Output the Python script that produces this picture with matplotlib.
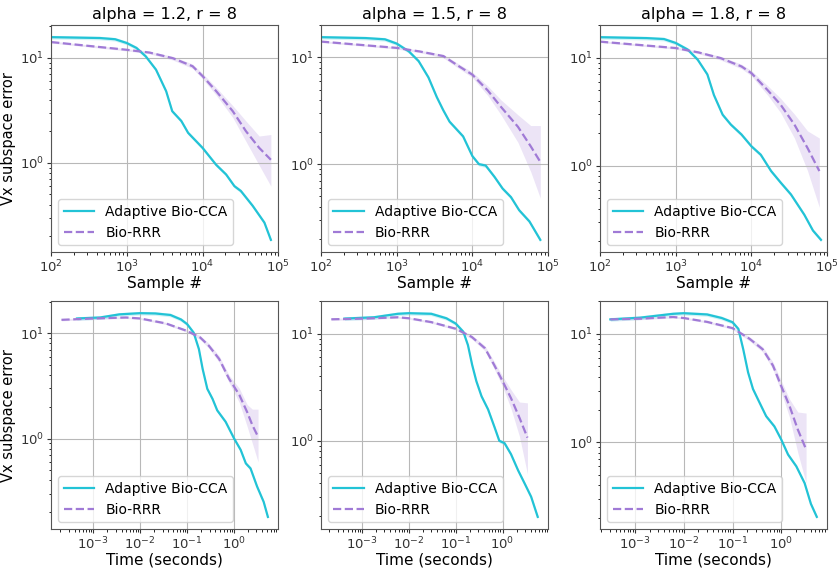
import numpy as np
import matplotlib
matplotlib.use("Agg")
import matplotlib.pyplot as plt

titles = ["alpha = 1.2, r = 8", "alpha = 1.5, r = 8", "alpha = 1.8, r = 8"]
cca_label = "Adaptive Bio-CCA"
rrr_label = "Bio-RRR"

# ---- top row: error vs sample count ----
# alpha = 1.2
s12_cca = [100, 441, 700, 1000, 1340, 1780, 2430, 3310, 3980, 5250, 6450, 10000, 15100, 20500, 26400, 32100, 46000, 65700, 80000]
e12_cca = [15.7, 15.4, 15.0, 13.8, 12.4, 10.3, 7.7, 4.8, 3.1, 2.5, 1.93, 1.39, 0.96, 0.775, 0.60, 0.54, 0.39, 0.27, 0.185]
s12_rrr = [100, 1000, 2000, 4060, 7400, 10000, 15200, 25100, 37500, 56000, 80000]
e12_rrr = [14.1, 11.9, 11.2, 9.9, 8.3, 6.7, 4.8, 3.1, 2.0, 1.39, 1.07]
lo12_rrr = [13.8, 11.6, 10.9, 9.5, 7.9, 6.3, 4.4, 2.7, 1.6, 0.95, 0.6]
hi12_rrr = [14.4, 12.2, 11.5, 10.3, 8.7, 7.1, 5.2, 3.5, 2.5, 1.8, 1.86]

# alpha = 1.5
s15_cca = [100, 390, 700, 1000, 1450, 1950, 2630, 3390, 4130, 5000, 7550, 10000, 12200, 15000, 19600, 25100, 32400, 41500, 56800, 79000]
e15_cca = [15.5, 15.2, 14.8, 13.5, 11.4, 9.25, 6.5, 4.25, 3.2, 2.5, 1.82, 1.19, 1.0, 0.97, 0.76, 0.59, 0.49, 0.37, 0.29, 0.195]
s15_rrr = [100, 1000, 2000, 4150, 6600, 10000, 16000, 23900, 40000, 59000, 79000]
e15_rrr = [14.1, 12.3, 11.4, 10.3, 8.3, 6.9, 4.9, 3.44, 2.24, 1.47, 1.05]
lo15_rrr = [13.8, 12.0, 11.1, 9.9, 7.9, 6.5, 4.4, 2.9, 1.6, 0.85, 0.48]
hi15_rrr = [14.4, 12.6, 11.7, 10.7, 8.7, 7.3, 5.4, 4.0, 2.9, 2.3, 2.3]

# alpha = 1.8
s18_cca = [100, 415, 700, 1000, 1440, 1950, 2620, 3200, 4170, 5350, 7400, 10000, 13300, 18200, 24600, 33300, 50000, 65000, 83000]
e18_cca = [15.5, 15.2, 14.9, 13.7, 11.9, 9.6, 7.0, 4.5, 2.96, 2.4, 1.94, 1.51, 1.26, 0.89, 0.69, 0.54, 0.35, 0.25, 0.205]
s18_rrr = [100, 1000, 2000, 3950, 7400, 10000, 16400, 24300, 37000, 55000, 79000]
e18_rrr = [14.1, 12.3, 11.2, 9.9, 8.3, 7.2, 5.0, 3.67, 2.4, 1.46, 0.89]
lo18_rrr = [13.8, 12.0, 10.9, 9.5, 7.9, 6.8, 4.5, 3.1, 1.8, 0.9, 0.41]
hi18_rrr = [14.4, 12.6, 11.5, 10.3, 8.7, 7.6, 5.5, 4.2, 3.0, 2.1, 1.8]

# ---- bottom row: error vs wall-clock time (seconds) ----
t12_cca = [4.5e-4, 1.4e-3, 3.6e-3, 1e-2, 2.1e-2, 4.4e-2, 7.4e-2, 0.1, 0.138, 0.178, 0.214, 0.269, 0.347, 0.437, 0.661, 1.0, 1.38, 1.78, 2.24, 3.09, 4.27, 5.25]
b12_cca = [13.8, 14.1, 15.1, 15.5, 15.4, 14.9, 13.5, 12.2, 10.1, 7.06, 4.57, 2.96, 2.38, 1.85, 1.44, 1.0, 0.78, 0.58, 0.52, 0.35, 0.25, 0.18]
t12_rrr = [2.1e-4, 1e-3, 5e-3, 1e-2, 3.5e-2, 0.1, 0.19, 0.29, 0.48, 0.78, 1.29, 1.9, 2.45, 3.24]
b12_rrr = [13.4, 13.8, 14.1, 13.8, 12.4, 10.5, 9.1, 7.6, 5.7, 3.7, 2.6, 1.78, 1.34, 1.04]
lo12b_rrr = [13.1, 13.5, 13.8, 13.5, 12.1, 10.2, 8.7, 7.2, 5.3, 3.4, 2.2, 1.3, 0.9, 0.6]
hi12b_rrr = [13.7, 14.1, 14.4, 14.1, 12.7, 10.8, 9.5, 8.0, 6.1, 4.0, 3.0, 2.1, 1.9, 1.9]

t15_cca = [4.2e-4, 1.8e-3, 5.8e-3, 1e-2, 3e-2, 6.3e-2, 0.1, 0.145, 0.182, 0.224, 0.275, 0.355, 0.49, 0.676, 0.85, 1.1, 1.51, 2.14, 2.95, 4.07, 5.62]
b15_cca = [13.8, 14.2, 15.3, 15.5, 15.3, 13.9, 12.4, 10.4, 7.8, 5.1, 3.6, 2.6, 1.96, 1.33, 1.0, 0.95, 0.75, 0.53, 0.4, 0.3, 0.195]
t15_rrr = [2.2e-4, 1.1e-3, 5.8e-3, 1e-2, 3e-2, 0.1, 0.22, 0.42, 0.66, 1.0, 1.51, 2.29, 3.39]
b15_rrr = [13.6, 13.8, 14.2, 13.9, 12.8, 11.1, 9.3, 7.3, 5.1, 3.6, 2.5, 1.64, 1.07]
lo15b_rrr = [13.3, 13.5, 13.9, 13.6, 12.5, 10.8, 8.9, 6.9, 4.7, 3.2, 2.0, 1.1, 0.49]
hi15b_rrr = [13.9, 14.1, 14.5, 14.2, 13.1, 11.4, 9.7, 7.7, 5.5, 4.0, 3.0, 2.3, 2.26]

t18_cca = [3.1e-4, 1.26e-3, 6e-3, 1e-2, 3e-2, 6e-2, 0.1, 0.132, 0.166, 0.209, 0.263, 0.331, 0.49, 0.724, 1.0, 1.38, 2.04, 3.02, 4.07, 5.37]
b18_cca = [13.6, 14.1, 15.3, 15.5, 15.1, 14.0, 12.8, 11.1, 7.2, 4.4, 3.1, 2.5, 1.74, 1.4, 1.06, 0.77, 0.6, 0.42, 0.27, 0.205]
t18_rrr = [3.1e-4, 1.26e-3, 6e-3, 1e-2, 3e-2, 0.1, 0.224, 0.417, 0.676, 1.0, 1.48, 2.19, 3.24]
b18_rrr = [13.6, 13.8, 14.3, 14.0, 12.9, 11.3, 9.0, 7.2, 5.1, 3.3, 2.16, 1.31, 0.86]
lo18b_rrr = [13.3, 13.5, 14.0, 13.7, 12.6, 11.0, 8.6, 6.8, 4.7, 2.9, 1.7, 0.8, 0.42]
hi18b_rrr = [13.9, 14.1, 14.6, 14.3, 13.2, 11.6, 9.4, 7.6, 5.5, 3.7, 2.5, 1.9, 1.86]

top_panels = [
    (s12_cca, e12_cca, s12_rrr, e12_rrr, lo12_rrr, hi12_rrr),
    (s15_cca, e15_cca, s15_rrr, e15_rrr, lo15_rrr, hi15_rrr),
    (s18_cca, e18_cca, s18_rrr, e18_rrr, lo18_rrr, hi18_rrr),
]
bottom_panels = [
    (t12_cca, b12_cca, t12_rrr, b12_rrr, lo12b_rrr, hi12b_rrr),
    (t15_cca, b15_cca, t15_rrr, b15_rrr, lo15b_rrr, hi15b_rrr),
    (t18_cca, b18_cca, t18_rrr, b18_rrr, lo18b_rrr, hi18b_rrr),
]

c_cca = "#22c3d6"
c_rrr = "#a07ad6"

fig = plt.figure(figsize=(8.38, 5.69), dpi=100)
lefts = [0.061, 0.383, 0.716]
width = 0.271


def draw(ax, x1, y1, x2, y2, lo, hi):
    y1 = np.array(y1)
    ax.fill_between(x1, y1 * 0.96, y1 * 1.04, color=c_cca, alpha=0.2, lw=0)
    ax.fill_between(x2, lo, hi, color=c_rrr, alpha=0.2, lw=0)
    ax.plot(x1, y1, "-", color=c_cca, lw=1.6, label=cca_label)
    ax.plot(x2, y2, "--", color=c_rrr, lw=1.6, label=rrr_label)
    ax.set_xscale("log")
    ax.set_yscale("log")
    ax.grid(True, color="#b8b8b8", lw=0.8)
    for sp in ax.spines.values():
        sp.set_color("#555555")
    ax.tick_params(which="major", labelsize=9.5, colors="#333333", length=3, pad=2)
    ax.tick_params(which="minor", length=1.8)
    ax.legend(loc="lower left", fontsize=10, handlelength=2.2)


for i in range(3):
    ax = fig.add_axes([lefts[i], 0.557, width, 0.399])
    draw(ax, *top_panels[i])
    ax.set_xlim(1e2, 1e5)
    ax.set_title(titles[i], fontsize=11.5, pad=4)
    ax.set_xlabel("Sample #", fontsize=11, labelpad=0)
    if i == 0:
        ax.set_ylabel("Vx subspace error", fontsize=10.5, labelpad=3)

    ax = fig.add_axes([lefts[i], 0.070, width, 0.401])
    draw(ax, *bottom_panels[i])
    ax.set_xlabel("Time (seconds)", fontsize=11, labelpad=0)
    if i == 0:
        ax.set_ylabel("Vx subspace error", fontsize=10.5, labelpad=3)

plt.savefig("out.png", dpi=100)
